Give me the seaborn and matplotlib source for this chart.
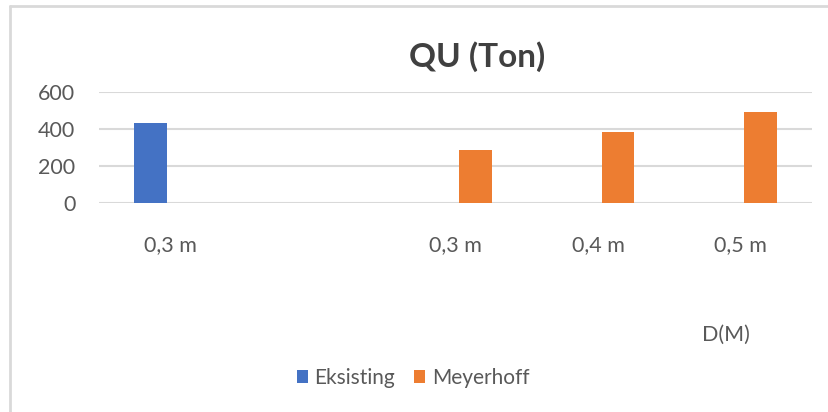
import matplotlib
matplotlib.use("Agg")
import matplotlib.pyplot as plt
import seaborn as sns
import pandas as pd
import numpy as np

# ---- data ----
category_keys = ["c1", "c2", "c3", "c4", "c5"]
tick_labels = ["0,3 m", "", "0,3 m", "0,4 m", "0,5 m"]
eksisting = [430, np.nan, np.nan, np.nan, np.nan]
meyerhoff = [np.nan, np.nan, 287, 382, 490]
series_names = ["Eksisting", "Meyerhoff"]
colors = ["#4472C4", "#ED7D31"]
y_ticks = [0, 200, 400, 600]

df = pd.DataFrame({
    "cat": category_keys * 2,
    "value": eksisting + meyerhoff,
    "series": [series_names[0]] * 5 + [series_names[1]] * 5,
})

sns.set_style("white")
plt.rcParams["font.family"] = ["Lato", "DejaVu Sans"]
text_color = "#595959"
fs = 15.5

fig = plt.figure(figsize=(8.29, 4.12), dpi=100)
ax = fig.add_axes([99 / 829, 1 - 203.3 / 412, (812 - 99) / 829, (203.3 - 91.7) / 412])

sns.barplot(data=df, x="cat", y="value", hue="series", order=category_keys,
            hue_order=series_names, palette=colors, width=0.56, gap=0.18,
            saturation=1, ax=ax, legend=False, linewidth=0)

ax.set_ylim(0, 600)
ax.set_xlim(-0.5, 4.5)
ax.set_yticks(y_ticks)
ax.set_yticklabels([str(v) for v in y_ticks])
ax.set_xticks(range(len(category_keys)))
ax.set_xticklabels(tick_labels)
ax.tick_params(axis="x", length=0, pad=23, labelsize=fs, labelcolor=text_color)
ax.tick_params(axis="y", length=0, pad=17, labelsize=fs, labelcolor=text_color)
ax.set_xlabel("")
ax.set_ylabel("")
for s in ax.spines.values():
    s.set_visible(False)
ax.grid(axis="y", color="#d9d9d9", linewidth=1.5)
ax.set_axisbelow(True)

# titles
fig.text(477 / 829, 1 - 57 / 412, "QU (Ton)", ha="center", va="center",
         fontsize=24, fontweight="bold", color="#404040")
fig.text(750 / 829, 1 - 335 / 412, "D(M)", ha="right", va="center",
         fontsize=fs, color=text_color)

# legend
from matplotlib.patches import Patch
handles = [Patch(facecolor=c, edgecolor="none") for c in colors]
fig.legend(handles, series_names, loc="center", bbox_to_anchor=(413 / 829, 1 - 378 / 412),
           ncol=2, frameon=False, fontsize=15, labelcolor=text_color,
           handlelength=0.55, handleheight=0.55, handletextpad=0.3, columnspacing=0.9)

# chart border (top & left)
fig.add_artist(plt.Line2D([10 / 829, 10 / 829], [0, 1 - 6 / 412], color="#d9d9d9", linewidth=2,
                          transform=fig.transFigure))
fig.add_artist(plt.Line2D([10 / 829, 1], [1 - 6 / 412, 1 - 6 / 412], color="#d9d9d9", linewidth=2,
                          transform=fig.transFigure))

fig.savefig("out.png", dpi=100, facecolor="white")
